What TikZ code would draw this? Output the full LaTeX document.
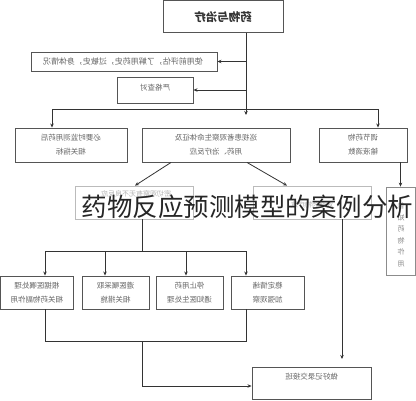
\documentclass[tikz,border=0pt]{standalone}
\usepackage{fontspec}
\usepackage{graphicx}
\newfontfamily\cjk{Noto Sans CJK SC}
\usetikzlibrary{arrows.meta}
\definecolor{boxline}{HTML}{555555}
\definecolor{lightline}{HTML}{BBBBBB}
\definecolor{txtgray}{HTML}{666666}
\definecolor{conn}{HTML}{333333}
\newcommand{\mir}[1]{\reflectbox{#1}}
\newcommand{\mirtwo}[2]{\reflectbox{\begin{tabular}{@{}c@{}}#1\\#2\end{tabular}}}
\tikzset{
  box/.style={draw=boxline, line width=0.9pt, inner sep=0pt, fill=white},
  lbox/.style={draw=lightline, line width=0.8pt, inner sep=0pt},
  txt/.style={inner sep=0pt, text=txtgray, font=\cjk\fontsize{7.5}{14}\selectfont},
  arr/.style={draw=conn, line width=0.8pt, -{Stealth[length=4pt,width=3.5pt]}},
  ln/.style={draw=conn, line width=0.8pt},
  titletxt/.style={inner sep=0pt, text=black!85, font=\cjk\fontsize{25.5}{28}\selectfont}
}
\begin{document}
\begin{tikzpicture}[x=1pt,y=-1pt]
\useasboundingbox (0,0) rectangle (416,400);
\fill[white] (0,0) rectangle (416,400);
% boxes
\node[box, minimum width=120pt, minimum height=32pt] (top) at (223,16.5) {};
\node[inner sep=0pt, font=\cjk\bfseries\fontsize{11.5}{13}\selectfont, text=black!80] (toptxt) at (223,17) {\mir{药物与治疗}};
\node[box, minimum width=186pt, minimum height=19pt] (b2) at (124,61.5) {};
\node[txt, font=\cjk\fontsize{8}{10}\selectfont] (b2t) at (123,61.5) {\mir{使用前评估，了解用药史，过敏史，身体情况}};
\node[box, minimum width=76pt, minimum height=26pt] (b3) at (155,90) {};
\node[txt] (b3t) at (155,88) {\mir{严格查对}};
\node[box, minimum width=112pt, minimum height=34pt] (r3a) at (71,145) {};
\node[txt] (r3at) at (71,145) {\mirtwo{必要时监测用药后}{相关指标}};
\node[box, minimum width=148pt, minimum height=34pt] (r3b) at (216,145) {};
\node[txt] (r3bt) at (216,145) {\mirtwo{巡视患者观察生命体征及}{用药、治疗反应}};
\node[box, minimum width=88pt, minimum height=34pt] (r3c) at (363,145) {};
\node[txt] (r3ct) at (363,145) {\mirtwo{调节药物}{输液滴数}};
\node[lbox, minimum width=118pt, minimum height=33pt] (r4a) at (134,202.5) {};
\node[txt, text=black!30, font=\cjk\fontsize{7}{9}\selectfont] (r4at) at (136,194) {\mir{密切观察有无不良反应}};
\node[lbox, minimum width=118pt, minimum height=33pt] (r4b) at (312,202.5) {};
\node[txt, text=black!30, font=\cjk\fontsize{7}{9}\selectfont] (r4bt) at (312,205) {\mir{观察药物疗效}};
\node[lbox, draw=black!45, minimum width=29pt, minimum height=88pt] (r4c) at (400.5,231) {};
\node[txt, text=black!45, font=\cjk\fontsize{7}{11.5}\selectfont] (r4ct) at (401,235) {\reflectbox{\begin{tabular}{@{}c@{}}告\\知\\药\\物\\作\\用\end{tabular}}};
\node[box, minimum width=73pt, minimum height=33pt] (r5a) at (37,292.5) {};
\node[txt] (r5at) at (37,292.5) {\mirtwo{根据医嘱处理}{相关药物副作用}};
\node[box, minimum width=67pt, minimum height=33pt] (r5b) at (115.5,292.5) {};
\node[txt] (r5bt) at (115.5,292.5) {\mirtwo{遵医嘱采取}{相关措施}};
\node[box, minimum width=67pt, minimum height=33pt] (r5c) at (189.5,292.5) {};
\node[txt] (r5ct) at (189.5,292.5) {\mirtwo{停止用药}{通知医生处理}};
\node[box, minimum width=73pt, minimum height=33pt] (r5d) at (267.5,292.5) {};
\node[txt] (r5dt) at (267.5,292.5) {\mirtwo{稳定情绪}{加强观察}};
\node[box, minimum width=119pt, minimum height=32pt] (bot) at (311.5,383) {};
\node[txt] (bott) at (311.5,377) {\mir{做好记录交接班}};
% connector coordinates
\coordinate (j1) at (246,115);
\coordinate (hl) at (52,109);
\coordinate (hr) at (378,109);
\coordinate (d1) at (45,251);
\coordinate (d2) at (105,251);
\coordinate (d3) at (186,251);
\coordinate (d4) at (246,251);
\coordinate (e1) at (45,341);
\coordinate (e2) at (246,341);
\coordinate (e3) at (142,341);
\coordinate (f1) at (142,386);
\coordinate (g1) at (342,359);
% connectors
\draw[arr] (top.south -| j1) -- (j1);
\draw[arr] (b2.east -| j1) -- (b2.east);
\draw[arr] (b3.east -| j1) -- (b3.east);
\draw[ln] (hl) -- (hr);
\draw[arr] (hl) -- (hl |- r3a.north);
\draw[arr] (hr) -- (hr |- r3c.north);
\draw[arr] (r4c.north |- r3c.south) -- (r4c.north);
\draw[arr] ([xshift=-45pt]r3b.south) -- ([xshift=1pt]r4a.north);
\draw[arr] ([xshift=31pt]r3b.south) -- ([xshift=-25pt]r4b.north);
\draw[ln] (r4a.south -| e3) -- (e3 |- d1);
\draw[ln] (d1) -- (d4);
\draw[arr] (d1) -- (d1 |- r5a.north);
\draw[arr] (d2) -- (d2 |- r5b.north);
\draw[arr] (d3) -- (d3 |- r5c.north);
\draw[arr] (d4) -- (d4 |- r5d.north);
\draw[ln] (r5a.south -| e1) -- (e1) -- (e2) -- (r5d.south -| e2);
\draw[arr] (e3) -- (f1) -- (f1 -| bot.west);
\draw[arr] (r4b.south -| g1) -- (g1);
% overlay title
\node[titletxt] (title) at (247.5,207) {药物反应预测模型的案例分析};
\end{tikzpicture}
\end{document}
